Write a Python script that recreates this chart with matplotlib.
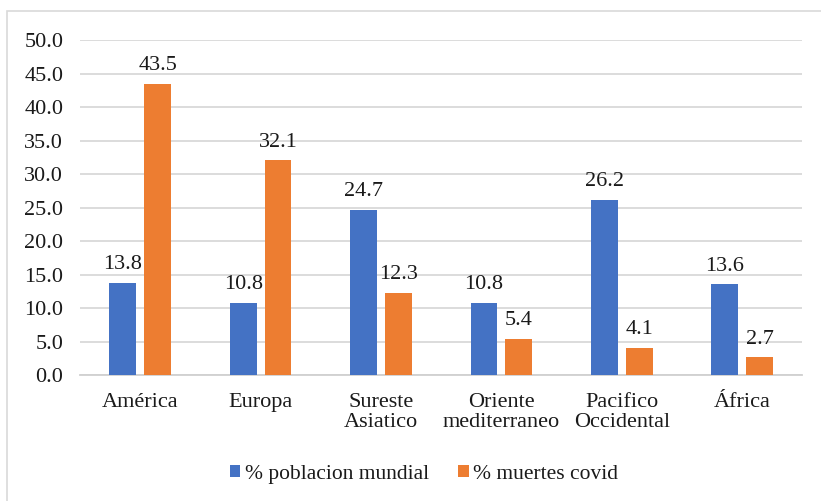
import numpy as np
import matplotlib.pyplot as plt
from matplotlib.font_manager import FontProperties
from matplotlib.patches import Rectangle

# regiones OMS y porcentajes
regiones = ["América", "Europa", "Sureste\nAsiatico", "Oriente\nmediterraneo",
            "Pacifico\nOccidental", "África"]
poblacion = [13.8, 10.8, 24.7, 10.8, 26.2, 13.6]
muertes = [43.5, 32.1, 12.3, 5.4, 4.1, 2.7]

AZUL = "#4472C4"
NARANJA = "#ED7D31"

plt.rcParams["font.family"] = "serif"
plt.rcParams["font.serif"] = ["Liberation Serif", "DejaVu Serif"]
plt.rcParams["font.size"] = 16

fig = plt.figure(figsize=(8.21, 5.01), dpi=100)
ax = fig.add_axes([0.0974, 0.2515, 0.880, 0.6685])

x = np.arange(len(regiones))
ancho = 0.223
desp = 0.145
b1 = ax.bar(x - desp, poblacion, ancho, color=AZUL, label="% poblacion mundial", zorder=3)
b2 = ax.bar(x + desp, muertes, ancho, color=NARANJA, label="% muertes covid", zorder=3)

for barras, vals in ((b1, poblacion), (b2, muertes)):
    for r, v in zip(barras, vals):
        ax.annotate(f"{v:.1f}", (r.get_x() + r.get_width() / 2, v),
                    xytext=(0, 6), textcoords="offset points",
                    ha="center", va="bottom", color="#1a1a1a")

ax.set_xlim(-0.5, len(regiones) - 0.5)
ax.set_ylim(0, 50)
ax.set_yticks(np.arange(0, 50.1, 5))
ax.set_yticklabels([f"{t:.1f}" for t in np.arange(0, 50.1, 5)])
ax.set_xticks(x)
ax.set_xticklabels(regiones, linespacing=1.05)
ax.tick_params(axis="both", length=0, colors="#1a1a1a")
ax.tick_params(axis="y", pad=12)
ax.tick_params(axis="x", pad=13)

ax.grid(axis="y", color="#d9d9d9", linewidth=1.3, zorder=0)
for s in ("top", "right", "left"):
    ax.spines[s].set_visible(False)
ax.spines["bottom"].set_color("#d0d0d0")
ax.spines["bottom"].set_linewidth(1.3)

fp = FontProperties(family="Liberation Serif", size=15.5)
leg = ax.legend(loc="upper center", bbox_to_anchor=(0.476, -0.21), ncol=2, frameon=False,
                prop=fp, handlelength=0.5, handleheight=0.5, handletextpad=0.2,
                columnspacing=1.35)
for t in leg.get_texts():
    t.set_color("#1a1a1a")

# marco del grafico
fig.patches.append(Rectangle((7 / 821, -0.05), 1.2, 1 - 11 / 501 + 0.05,
                             transform=fig.transFigure, fill=False,
                             edgecolor="#d9d9d9", linewidth=1.2))

fig.savefig("out.png", dpi=100)
